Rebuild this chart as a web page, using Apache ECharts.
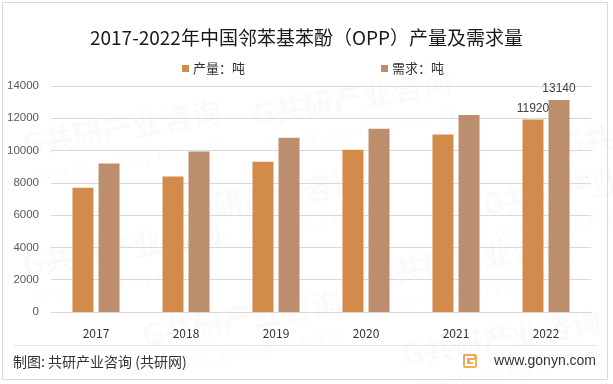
<!DOCTYPE html>
<html>
<head>
<meta charset="utf-8">
<script src="https://cdn.jsdelivr.net/npm/echarts@6/dist/echarts.min.js"></script>
<style>
html,body{margin:0;padding:0;background:#fff;}
#c{width:613px;height:384px;}
</style>
</head>
<body>
<div id="c"></div>
<script>
var years = ['2017', '2018', '2019', '2020', '2021', '2022'];
var production = [7700, 8400, 9300, 10050, 11000, 11920];
var demand = [9200, 9950, 10800, 11350, 12200, 13140];
var yTicks = [0, 2000, 4000, 6000, 8000, 10000, 12000, 14000];

var FONT = '"Noto Sans CJK SC", "Noto Sans", sans-serif';
var chart = echarts.init(document.getElementById('c'), null, {renderer: 'canvas'});

var wm = [];
var wmPos = [[20, 130], [250, 100], [370, 260], [480, 190], [20, 250], [140, 320], [560, 130], [400, 340], [160, 200]];
wmPos.forEach(function (p) {
  wm.push({
    type: 'group', x: p[0], y: p[1], rotation: 0.17, silent: true, z: 0,
    children: [
      {type: 'text', style: {text: 'G共研产业咨询', x: 0, y: 0, font: 'bold 30px ' + FONT, fill: 'rgba(0,0,0,0.018)'}},
      {type: 'text', style: {text: 'w w w . g o n y n . c o m', x: 8, y: 38, font: '18px ' + FONT, fill: 'rgba(0,0,0,0.018)'}}
    ]
  });
});

chart.setOption({
  animation: false,
  backgroundColor: '#fff',
  title: {
    text: '2017-2022年中国邻苯基苯酚（OPP）产量及需求量',
    left: 'center', top: 23,
    textStyle: {fontFamily: FONT, fontSize: 19, fontWeight: 'normal', color: '#1a1a1a'}
  },
  legend: {
    left: 177, top: 57,
    itemWidth: 7, itemHeight: 7, itemGap: 136,
    icon: 'rect',
    textStyle: {fontFamily: FONT, fontSize: 13, color: '#333', padding: [0, 0, 0, -1]},
    data: ['产量：吨', '需求：吨']
  },
  grid: {left: 51, right: 22, top: 86, bottom: 72},
  xAxis: {
    type: 'category',
    data: years,
    axisLine: {lineStyle: {color: '#d9d9d9'}},
    axisTick: {show: false},
    axisLabel: {fontFamily: FONT, fontSize: 12, color: '#333', margin: 15}
  },
  yAxis: {
    type: 'value',
    min: yTicks[0], max: yTicks[yTicks.length - 1], interval: 2000,
    axisLine: {show: false},
    axisTick: {show: false},
    splitLine: {lineStyle: {color: '#d9d9d9'}},
    axisLabel: {fontFamily: '"Liberation Sans", sans-serif', fontSize: 11.5, color: '#595959', margin: 12,
      formatter: function (v) { return String(v); }}
  },
  series: [
    {
      name: '产量：吨', type: 'bar', data: production,
      barWidth: 21, barGap: '24%',
      itemStyle: {color: '#D38B4C'},
      label: {
        show: true, position: 'top', distance: 5,
        fontFamily: '"Liberation Sans", sans-serif', fontSize: 12, color: '#404040',
        formatter: function (p) { return p.dataIndex === years.length - 1 ? String(p.value) : ''; }
      }
    },
    {
      name: '需求：吨', type: 'bar', data: demand,
      barWidth: 21,
      itemStyle: {color: '#BC8E6D'},
      label: {
        show: true, position: 'top', distance: 5,
        fontFamily: '"Liberation Sans", sans-serif', fontSize: 12, color: '#404040',
        formatter: function (p) { return p.dataIndex === years.length - 1 ? String(p.value) : ''; }
      }
    }
  ],
  graphic: wm.concat([
    {type: 'rect', shape: {x: 2.5, y: 2.5, width: 605, height: 377}, style: {fill: 'none', stroke: '#d9d9d9', lineWidth: 1}, silent: true},
    {type: 'line', shape: {x1: 14, y1: 345.5, x2: 596, y2: 345.5}, style: {stroke: '#e3e3e3', lineWidth: 1}, silent: true},
    {type: 'text', style: {text: '制图: 共研产业咨询 (共研网)', x: 13, y: 362, verticalAlign: 'middle', font: '14px ' + FONT, fill: '#333'}},
    {type: 'text', style: {text: 'www.gonyn.com', x: 596, y: 361, align: 'right', verticalAlign: 'middle', font: '14px "Liberation Sans", sans-serif', fill: '#333'}},
    {type: 'rect', shape: {x: 463, y: 354, width: 14, height: 14, r: 2},
      style: {fill: new echarts.graphic.LinearGradient(0, 0, 1, 1, [{offset: 0, color: '#F29A5C'}, {offset: 1, color: '#F7B84E'}])}},
    {type: 'polyline', shape: {points: [[474, 357], [466, 357], [466, 365], [474, 365], [474, 361], [470, 361]]},
      style: {stroke: '#fff', lineWidth: 2, fill: 'none'}}
  ])
});
</script>
</body>
</html>
